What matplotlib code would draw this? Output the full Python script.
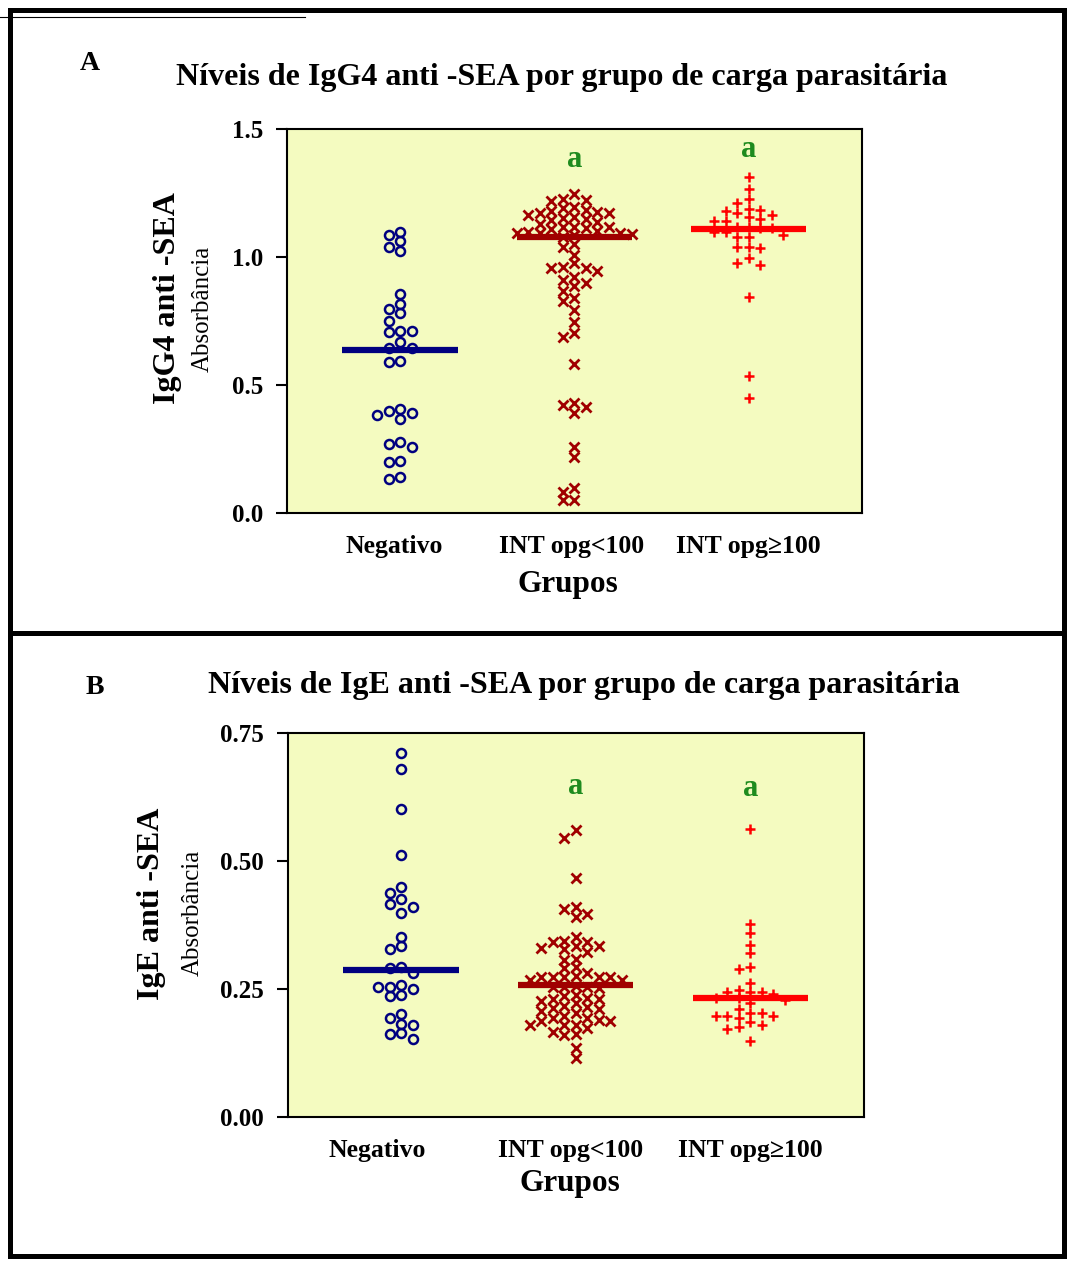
import numpy as np
import matplotlib
matplotlib.use('Agg')
import matplotlib.pyplot as plt
from matplotlib.lines import Line2D

grupos = ['Negativo', 'INT opg<100', 'INT opg\u2265100']

# painel A - IgG4 anti-SEA (absorbancia)
igg4_negativo = [1.098, 1.086, 1.064, 1.040, 1.025, 0.854, 0.815, 0.797, 0.782, 0.751,
                 0.712, 0.706, 0.712, 0.667, 0.643, 0.643, 0.595, 0.589, 0.407, 0.400,
                 0.391, 0.384, 0.367, 0.276, 0.268, 0.259, 0.204, 0.198, 0.142, 0.133]
igg4_int_menor = [1.245, 1.227, 1.223, 1.219, 1.194, 1.190, 1.184, 1.180, 1.177, 1.173,
                  1.171, 1.164, 1.157, 1.151, 1.147, 1.145, 1.138, 1.130, 1.118, 1.118,
                  1.115, 1.118, 1.108, 1.102, 1.099, 1.092, 1.092, 1.092, 1.090, 1.085,
                  1.080, 1.049, 1.040, 1.008, 0.975, 0.962, 0.958, 0.956, 0.947, 0.923,
                  0.910, 0.900, 0.887, 0.868, 0.839, 0.828, 0.793, 0.747, 0.702, 0.689,
                  0.581, 0.431, 0.422, 0.413, 0.392, 0.259, 0.220, 0.096, 0.083, 0.051,
                  0.051]
igg4_int_maior = [1.314, 1.266, 1.227, 1.212, 1.188, 1.184, 1.181, 1.173, 1.164, 1.155,
                  1.148, 1.142, 1.142, 1.116, 1.116, 1.112, 1.112, 1.099, 1.099, 1.086,
                  1.079, 1.077, 1.040, 1.040, 1.034, 0.995, 0.978, 0.969, 0.845, 0.536,
                  0.448]
igg4_medianas = [0.636, 1.079, 1.111]

# painel B - IgE anti-SEA (absorbancia)
ige_negativo = [0.712, 0.680, 0.602, 0.512, 0.450, 0.437, 0.426, 0.416, 0.411, 0.399,
                0.352, 0.333, 0.328, 0.293, 0.290, 0.281, 0.258, 0.254, 0.250, 0.254,
                0.238, 0.235, 0.200, 0.193, 0.181, 0.179, 0.164, 0.161, 0.152]
ige_int_menor = [0.561, 0.546, 0.466, 0.411, 0.406, 0.396, 0.391,
                 0.352, 0.344, 0.341, 0.341, 0.333, 0.333, 0.329, 0.328, 0.322,
                 0.309, 0.307, 0.293, 0.290,
                 0.281, 0.275, 0.274, 0.274, 0.273, 0.273, 0.273, 0.267, 0.267,
                 0.256, 0.254, 0.254, 0.253, 0.251,
                 0.238, 0.235, 0.232, 0.230, 0.230, 0.227, 0.222, 0.217, 0.215, 0.212,
                 0.210, 0.207, 0.202,
                 0.196, 0.193, 0.193, 0.189, 0.187, 0.187, 0.179, 0.179, 0.179, 0.173,
                 0.165, 0.162, 0.160, 0.134, 0.114]
ige_int_maior = [0.563, 0.376, 0.360, 0.336, 0.320, 0.293, 0.289, 0.262, 0.248, 0.243,
                 0.243, 0.243, 0.240, 0.232, 0.232, 0.228, 0.223, 0.210, 0.202, 0.202,
                 0.196, 0.196, 0.196, 0.193, 0.184, 0.179, 0.176, 0.172, 0.148]
ige_medianas = [0.286, 0.258, 0.231]

W, H = 1069, 1263
fig = plt.figure(figsize=(W / 100, H / 100), dpi=100)
fonte = ['Liberation Serif', 'DejaVu Serif']


def fx(px):
    return px / W


def fy(py):
    return 1 - py / H


def swarm(ax, xc, valores, passo=11.5, dist=8.0):
    # pontos em colunas lado a lado, como no grafico original
    y_px = ax.transData.transform(np.column_stack([np.zeros(len(valores)), valores]))[:, 1]
    px_x = ax.transData.transform([(1, 0)])[0, 0] - ax.transData.transform([(0, 0)])[0, 0]
    ocupados = []
    xs = []
    ordem = [0, -1, 1, -2, 2, -3, 3, -4, 4, -5, 5, -6, 6]
    for y in y_px:
        for c in ordem:
            if all(not (cc == c and abs(yy - y) < dist) for cc, yy in ocupados):
                break
        ocupados.append((c, y))
        xs.append(xc + c * passo / px_x)
    return xs


estilos = [
    dict(marker='o', color='#000080', mfc='none', ms=6.5, mew=1.8),
    dict(marker='x', color='#A00000', ms=6.5, mew=2.0),
    dict(marker='+', color='#FF0000', ms=7.5, mew=1.8),
]
cores_linha = ['#000080', '#A00000', '#FF0000']


def painel(pos, dados, medianas, ylim, yticks, fmt, tick_x, y_a):
    ax = fig.add_axes(pos)
    ax.set_facecolor('#F4FBC0')
    ax.set_xlim(0.35, 3.65)
    ax.set_ylim(*ylim)
    for i, vals in enumerate(dados):
        xs = swarm(ax, i + 1, vals)
        ax.plot(xs, vals, linestyle='none', zorder=3, **estilos[i])
        ax.plot([i + 1 - 0.33, i + 1 + 0.33], [medianas[i]] * 2, color=cores_linha[i],
                lw=4.5, solid_capstyle='butt', zorder=4)
    for i, y in zip([1, 2], y_a):
        ax.text(i + 1, y, 'a', color='#1E8B1E', fontsize=22, fontweight='bold',
                family=fonte, ha='center', va='center')
    ax.set_yticks(yticks)
    ax.set_yticklabels([fmt.format(v) for v in yticks], fontsize=18, fontweight='bold',
                       family=fonte)
    ax.tick_params(axis='y', direction='out', length=8, width=1.5, pad=9)
    ax.set_xticks(tick_x)
    ax.set_xticklabels(grupos, fontsize=18.5, fontweight='bold', family=fonte)
    ax.tick_params(axis='x', length=0, pad=16)
    for s in ax.spines.values():
        s.set_linewidth(1.5)
    return ax


painel([fx(286.7), fy(513), fx(862) - fx(286.7), (513 - 129) / H],
       [igg4_negativo, igg4_int_menor, igg4_int_maior], igg4_medianas,
       (0, 1.5), [0.0, 0.5, 1.0, 1.5], '{:.1f}', [0.966, 1.986, 3.0], [1.379, 1.418])

painel([fx(287.5), fy(1116.5), fx(864) - fx(287.5), (1116.5 - 733.3) / H],
       [ige_negativo, ige_int_menor, ige_int_maior], ige_medianas,
       (0, 0.75), [0.0, 0.25, 0.5, 0.75], '{:.2f}', [0.862, 1.97, 3.0], [0.645, 0.641])

# textos
fig.text(fx(90), fy(64), 'A', fontsize=20, fontweight='bold', family=fonte, ha='center', va='center')
fig.text(fx(562), fy(78), 'N\u00edveis de IgG4 anti -SEA por grupo de carga parasit\u00e1ria',
         fontsize=23, fontweight='bold', family=fonte, ha='center', va='center')
fig.text(fx(168), fy(298), 'IgG4 anti -SEA', fontsize=23, fontweight='bold', family=fonte,
         rotation=90, ha='center', va='center')
fig.text(fx(203), fy(309), 'Absorb\u00e2ncia', fontsize=18, family=fonte,
         rotation=90, ha='center', va='center')
fig.text(fx(568), fy(584), 'Grupos', fontsize=22.5, fontweight='bold', family=fonte,
         ha='center', va='center')

fig.text(fx(95), fy(688), 'B', fontsize=20, fontweight='bold', family=fonte, ha='center', va='center')
fig.text(fx(584), fy(685), 'N\u00edveis de IgE anti -SEA por grupo de carga parasit\u00e1ria',
         fontsize=23, fontweight='bold', family=fonte, ha='center', va='center')
fig.text(fx(152), fy(904), 'IgE anti -SEA', fontsize=23, fontweight='bold', family=fonte,
         rotation=90, ha='center', va='center')
fig.text(fx(193), fy(913), 'Absorb\u00e2ncia', fontsize=18, family=fonte,
         rotation=90, ha='center', va='center')
fig.text(fx(570), fy(1184), 'Grupos', fontsize=22.5, fontweight='bold', family=fonte,
         ha='center', va='center')

# moldura
def linha(x0, y0, x1, y1, lw):
    fig.add_artist(Line2D([fx(x0), fx(x1)], [fy(y0), fy(y1)], color='black', lw=lw,
                          solid_capstyle='projecting'))


linha(10, 10, 1064, 10, 3.6)
linha(10, 10, 10, 1256, 3.6)
linha(1064, 10, 1064, 1256, 3.6)
linha(10, 1256, 1064, 1256, 3.6)
linha(10, 633, 1064, 633, 3.6)
linha(0, 17, 305, 17, 0.8)

fig.savefig('out.png', dpi=100)
